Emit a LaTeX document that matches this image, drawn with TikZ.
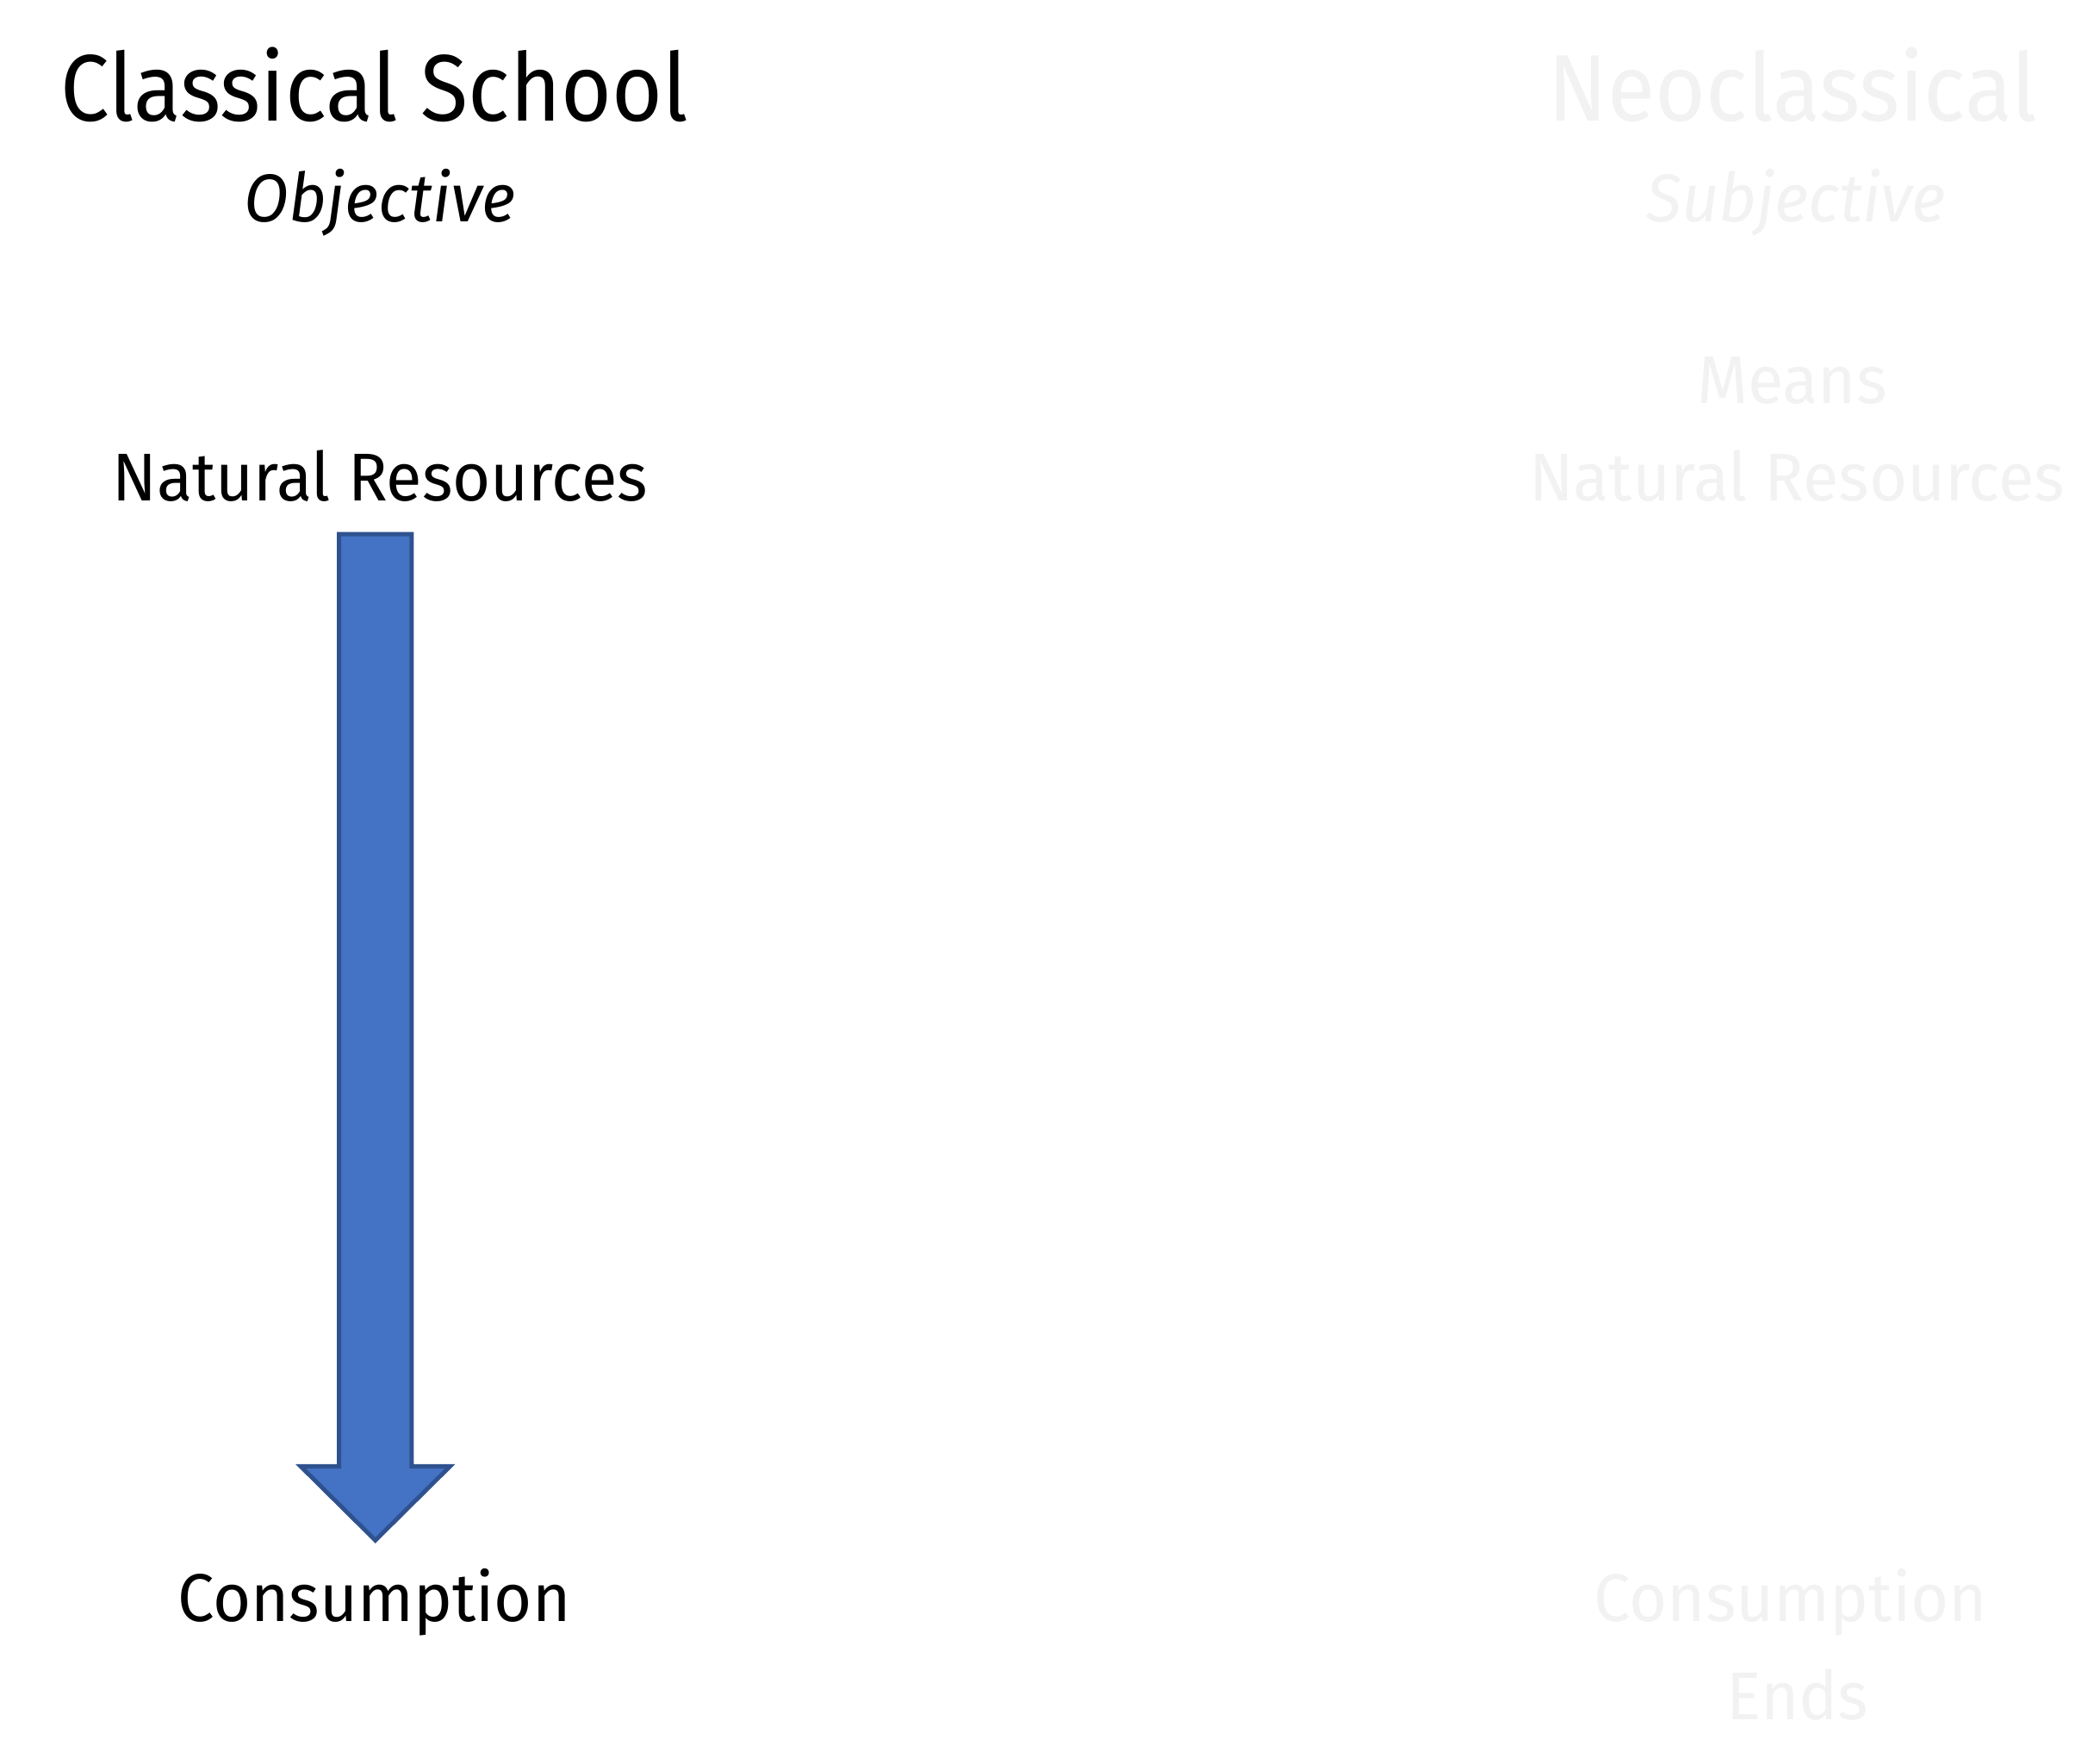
\documentclass[tikz,border=0pt]{standalone}
\usepackage{fontspec}
\setmainfont{Fira Sans}
\newfontfamily\headfont[FakeStretch=0.92]{Fira Sans}
\newfontfamily\bodyfont[FakeStretch=0.965]{Fira Sans}
\usetikzlibrary{calc}
\definecolor{arrowblue}{HTML}{4472C4}
\definecolor{arrowedge}{HTML}{2F528F}
\definecolor{ghost}{HTML}{F2F2F2}
\tikzstyle{heading}=[anchor=base, inner sep=0pt, font=\headfont\fontsize{20}{24}\selectfont]
\tikzstyle{term}=[anchor=base, inner sep=0pt, font=\bodyfont\fontsize{14.3}{17}\selectfont]
\tikzstyle{termit}=[term, font=\bodyfont\fontsize{14.3}{17}\selectfont\itshape]
\tikzstyle{faded}=[text=ghost]
\tikzstyle{blockarrow}=[fill=arrowblue, draw=arrowedge, line width=0.9pt, line join=miter]
\newcommand{\shaftR}{0.27}
\newcommand{\headR}{0.555}
\newcommand{\headL}{0.55}

\begin{document}
\begin{tikzpicture}
\useasboundingbox (0,0) rectangle (15.52,-13.11);
% classical side
\node[heading] (clTitle) at (2.785,-0.90) {Classical School};
\node[termit] (clKind) at (2.825,-1.65) {Objective};
\node[term] (clRes) at (2.825,-3.72) {Natural Resources};
\node[term] (clCons) at (2.78,-12.05) {Consumption};
% neoclassical side
\node[heading, faded] (ncTitle) at (13.325,-0.90) {Neoclassical};
\node[termit, faded] (ncKind) at (13.35,-1.65) {Subjective};
\node[term, faded] (ncMeans) at (13.32,-3.00) {Means};
\node[term, faded] (ncRes) at (13.355,-3.72) {Natural Resources};
\node[term, faded] (ncCons) at (13.31,-12.05) {Consumption};
\node[term, faded] (ncEnds) at (13.36,-12.78) {Ends};
% arrow
\coordinate (top) at (2.79,-3.97);
\coordinate (tip) at (2.79,-11.45);
\draw[blockarrow] ($(top)+(-\shaftR,0)$) -- ($(top)+(\shaftR,0)$)
  -- ($(tip)+(\shaftR,\headL)$) -- ($(tip)+(\headR,\headL)$) -- (tip)
  -- ($(tip)+(-\headR,\headL)$) -- ($(tip)+(-\shaftR,\headL)$) -- cycle;
\end{tikzpicture}
\end{document}
